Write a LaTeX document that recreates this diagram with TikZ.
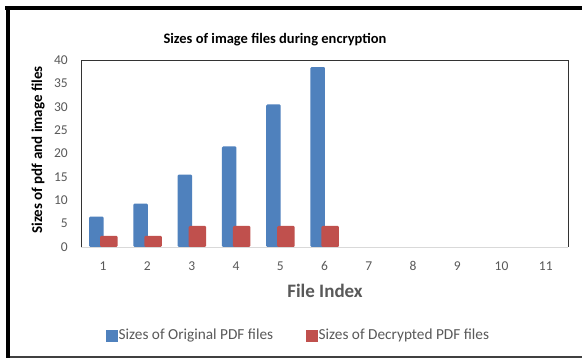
\documentclass[tikz,border=0pt]{standalone}
\usepackage{fontspec}
\setmainfont{Carlito}
\definecolor{serA}{HTML}{4F81BD}
\definecolor{serB}{HTML}{C0504D}
\definecolor{txtgray}{HTML}{595959}
\definecolor{axgray}{HTML}{D9D9D9}
\begin{document}
\begin{tikzpicture}[x=1pt,y=-1pt,
  ticklbl/.style={text=txtgray,font=\fontsize{13.5}{15}\selectfont,inner sep=0pt},
  barA/.style={fill=serA,draw=none,rounded corners=1.2pt},
  barB/.style={fill=serB,draw=none,rounded corners=1.2pt},
  legtxt/.style={text=txtgray,font=\fontsize{15.3}{17}\selectfont,anchor=west,inner sep=0pt}]
\useasboundingbox (0,0) rectangle (582,358);
\fill[white] (0,0) rectangle (582,358);
% outer frame
\fill[black] (5,6) rectangle (582,10);
\fill[black] (6,6) rectangle (10,358);
\fill[black!75] (10,356) rectangle (582,358);
% title
\node[font=\bfseries\fontsize{14.5}{16}\selectfont,inner sep=0pt] (title) at (275,40) {Sizes of image files during encryption};
% bars
\def\ys{4.675}
\foreach \i/\a/\b in {1/6.5/2.4,2/9.3/2.4,3/15.5/4.5,4/21.5/4.5,5/30.5/4.5,6/38.5/4.5}{
  \pgfmathsetmacro{\c}{81+(\i-0.5)*44.27}
  \fill[barA] (\c-14,247) -- (\c-14,247-\a*\ys) -- (\c+0.5,247-\a*\ys) -- (\c+0.5,247) -- cycle;
  \fill[barB] (\c-3,247) -- (\c-3,247-\b*\ys) -- (\c+14.5,247-\b*\ys) -- (\c+14.5,247) -- cycle;
}
% plot area
\draw[axgray,line width=0.8pt] (81,247) -- (568,247);
\draw[black!80,line width=0.8pt] (81,247) -- (81,60) -- (568,60) -- (568,247);
% y tick labels
\foreach \v in {0,5,...,40}{
  \node[ticklbl,anchor=east] (y\v) at (68,247-\v*\ys) {\v};
}
% x tick labels
\foreach \i in {1,...,11}{
  \pgfmathsetmacro{\c}{81+(\i-0.5)*44.27}
  \node[ticklbl] (x\i) at (\c,266) {\i};
}
% axis titles
\node[font=\bfseries\fontsize{15}{17}\selectfont,rotate=90,inner sep=0pt] (ytitle) at (38,150) {Sizes of pdf and image files};
\node[font=\bfseries\fontsize{19}{21}\selectfont,text=txtgray,inner sep=0pt] (xtitle) at (325,291) {File Index};
% legend
\fill[serA] (106,330) rectangle (118,342);
\node[legtxt] (legA) at (118.5,335.5) {Sizes of Original PDF files};
\fill[serB] (306,330) rectangle (318,342);
\node[legtxt] (legB) at (318.5,335.5) {Sizes of Decrypted PDF files};
\end{tikzpicture}
\end{document}
